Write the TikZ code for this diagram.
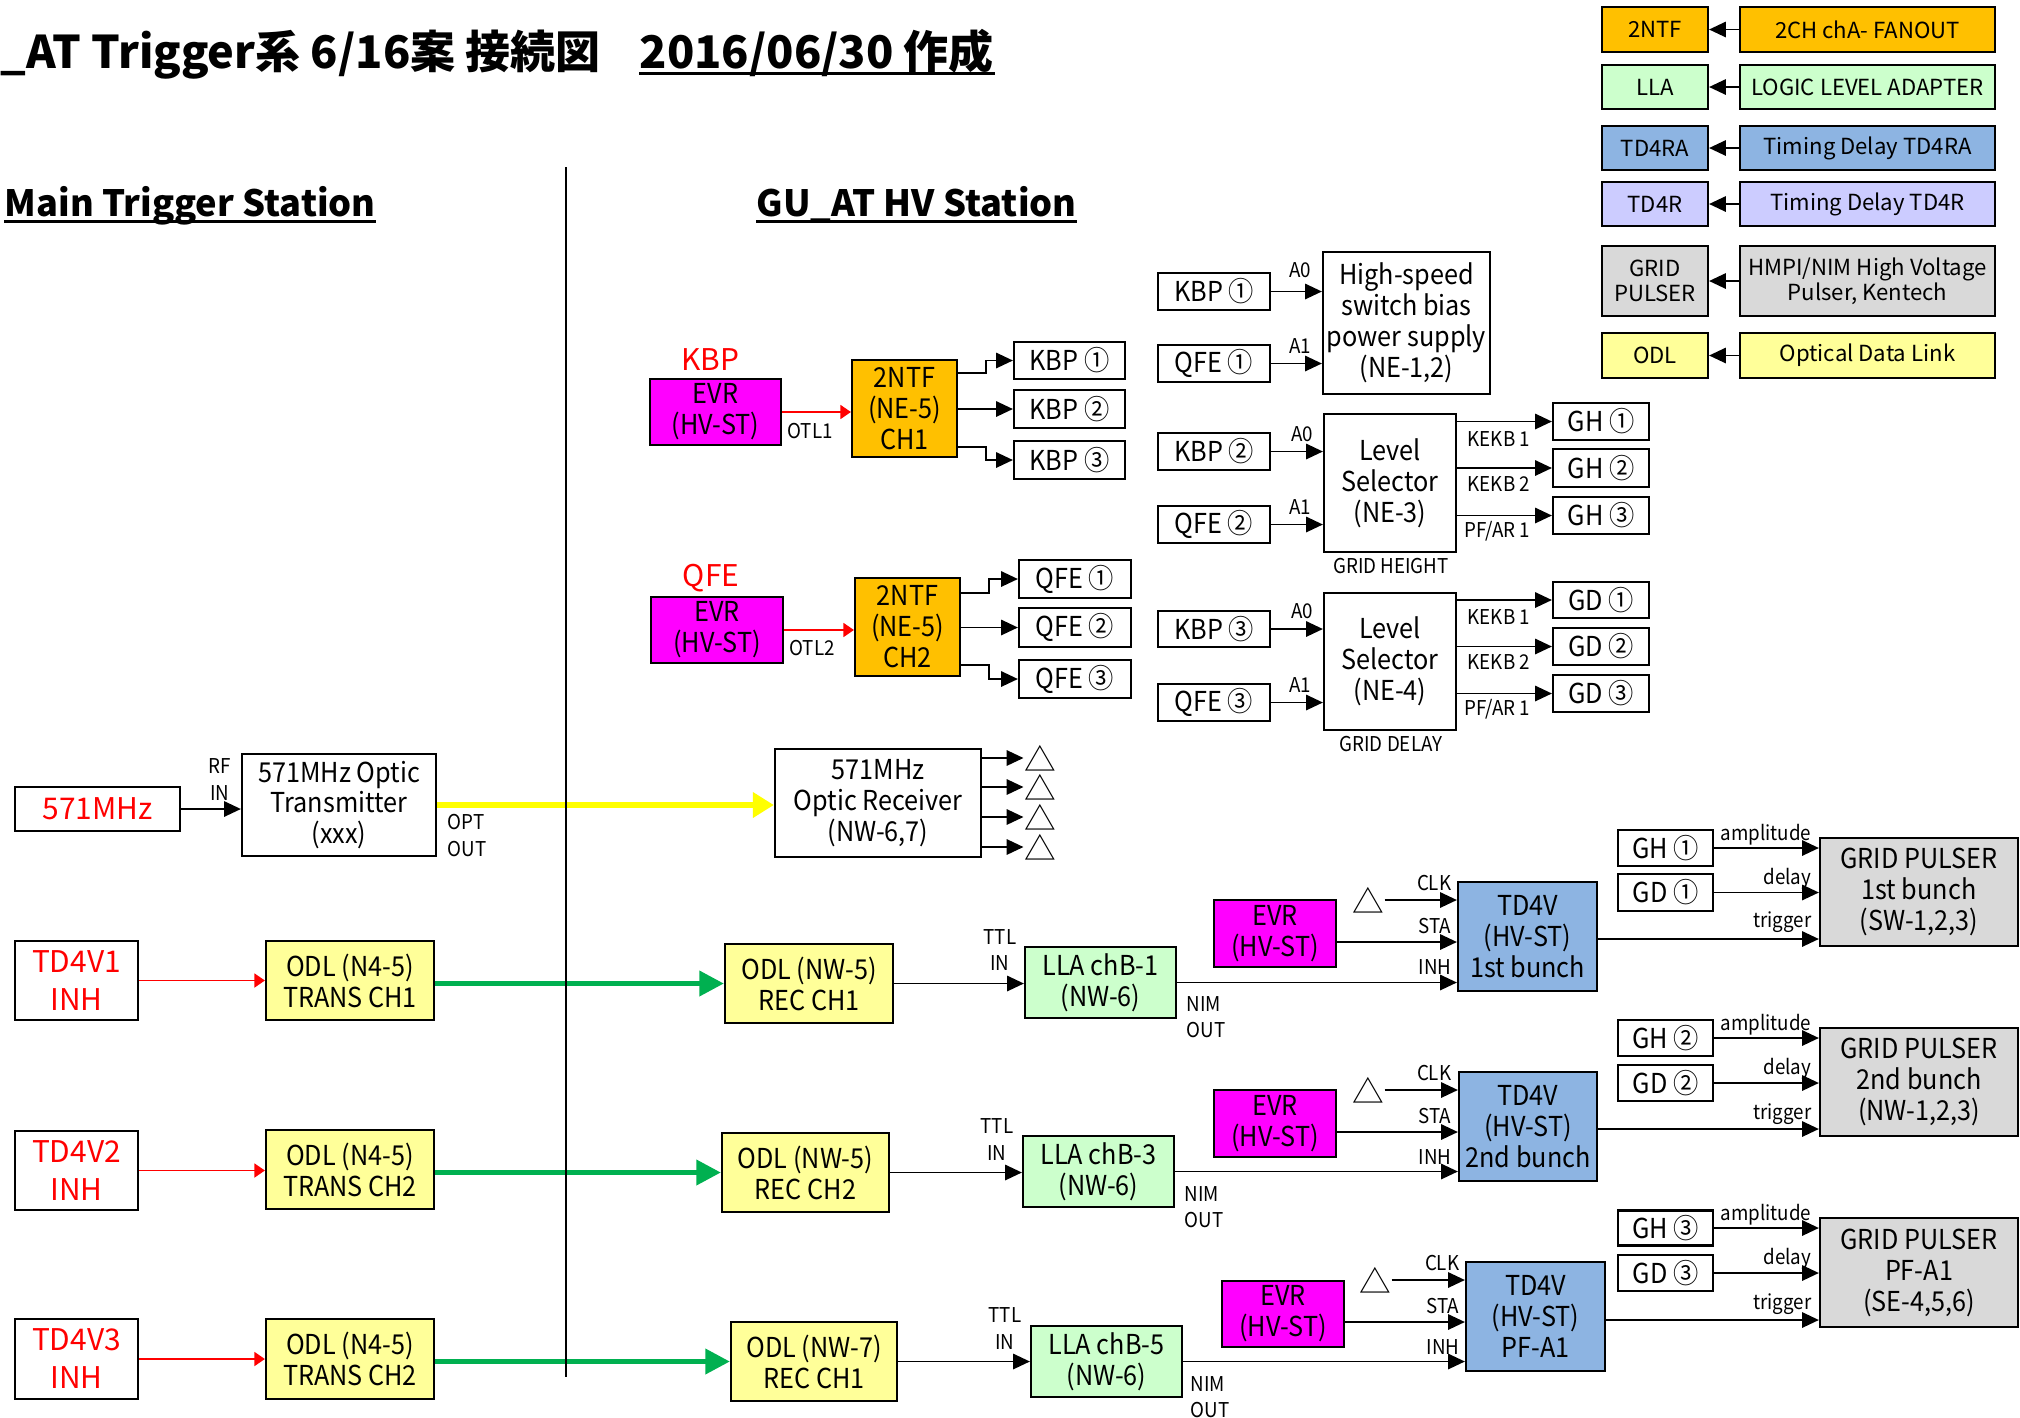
\documentclass[tikz,border=0pt]{standalone}
\usepackage{fontspec}
\setmainfont{Noto Sans CJK JP}
\newfontfamily\narrowfont{Noto Sans CJK JP}[FakeStretch=0.92]
\usetikzlibrary{arrows.meta}
\definecolor{ntforange}{HTML}{FFC000}
\definecolor{evrmag}{HTML}{FF00FF}
\definecolor{llagreen}{HTML}{CCFFCC}
\definecolor{tdblue}{HTML}{8DB4E2}
\definecolor{tdlav}{HTML}{CCCCFF}
\definecolor{gpgrey}{HTML}{D9D9D9}
\definecolor{odlyellow}{HTML}{FFFF99}
\definecolor{optyellow}{HTML}{FFFF00}
\definecolor{odlgreen}{HTML}{00B050}
\newcommand{\titlefont}{\fontsize{12.8}{15}\selectfont\bfseries}
\newcommand{\headfont}{\fontsize{10.3}{12}\selectfont\bfseries}
\newcommand{\boxfont}{\narrowfont\fontsize{7.8}{8.8}\selectfont}
\newcommand{\redfont}{\fontsize{8.5}{10.8}\selectfont}
\newcommand{\legfont}{\fontsize{6.3}{7.2}\selectfont}
\newcommand{\lblfont}{\narrowfont\fontsize{5.8}{7.4}\selectfont}
\begin{document}
\begin{tikzpicture}[x=0.01cm,y=-0.01cm]
	\tikzset{box/.style={draw,line width=0.6pt,align=center,inner sep=0pt,font=\boxfont},
		wh/.style 2 args={minimum width=#1cm,minimum height=#2cm},
		lbl/.style={font=\lblfont,inner sep=0pt},
		tri/.style={font=\fontsize{9}{9}\selectfont,inner sep=0pt},
		arr/.style={line width=0.5pt,-{Triangle[length=4.8pt,width=4.4pt]}},
		redarr/.style={red,line width=0.45pt,-{Triangle[length=3pt,width=4pt]}},
		grnarr/.style={odlgreen,line width=1.5pt,-{Triangle[length=7pt,width=7pt]}},
		yelarr/.style={optyellow,line width=1.5pt,-{Triangle[length=6pt,width=7pt]}}}
	\useasboundingbox (0,0) rectangle (2020,1417);
	
	% Title and station headings
	\node[anchor=base west,font=\titlefont,inner sep=0pt] (title) at (0,68) {\_AT Trigger系 6/16案 接続図};
	\node[anchor=base west,font=\titlefont,inner sep=0pt] (date) at (639,68) {2016/06/30 作成};
	\draw[line width=0.9pt] ([yshift=-1.5pt]date.base west) -- ([yshift=-1.5pt]date.base east);
	\node[anchor=base west,font=\headfont,inner sep=0pt] (mts) at (4,216) {Main Trigger Station};
	\draw[line width=0.8pt] ([yshift=-1.5pt]mts.base west) -- ([yshift=-1.5pt]mts.base east);
	\node[anchor=base west,font=\headfont,inner sep=0pt] (hvs) at (756,216) {GU\_AT HV Station};
	\draw[line width=0.8pt] ([yshift=-1.5pt]hvs.base west) -- ([yshift=-1.5pt]hvs.base east);
	
	% Legend
	\foreach \n/\yy/\hh/\col/\short/\long in {a/29.5/0.45/ntforange/2NTF/{2CH chA- FANOUT},
		b/87/0.44/llagreen/LLA/{LOGIC LEVEL ADAPTER},
		c/148/0.44/tdblue/TD4RA/{Timing Delay TD4RA},
		d/204/0.44/tdlav/TD4R/{Timing Delay TD4R},
		e/281/0.70/gpgrey/{GRID\\PULSER}/{HMPI/NIM High Voltage\\Pulser, Kentech},
		f/355.5/0.45/odlyellow/ODL/{Optical Data Link}}
	{
		\node[box,fill=\col,wh={1.06}{\hh},font=\legfont] (legS\n) at (1655,\yy) {\short};
		\node[box,fill=\col,wh={2.55}{\hh},font=\legfont] (legL\n) at (1867.5,\yy) {\long};
		\draw[arr] (legL\n) -- (legS\n);
	}
	
	% KBP branch
	\node[font=\redfont,text=red,inner sep=0pt] (kbplab) at (710,360) {KBP};
	\node[box,fill=evrmag,wh={1.31}{0.66}] (evrK) at (715.5,412) {EVR\\(HV-ST)};
	\node[box,fill=ntforange,wh={1.05}{0.97}] (ntfK) at (904.5,408.5) {2NTF\\(NE-5)\\CH1};
	\draw[redarr] (evrK.east) -- (evrK.east -| ntfK.west);
	\node[lbl] (otl1) at (810,431) {OTL1};
	\node[box,wh={1.11}{0.37}] (kbpo1) at (1069.5,360.5) {KBP ①};
	\node[box,wh={1.11}{0.38}] (kbpo2) at (1069.5,409) {KBP ②};
	\node[box,wh={1.11}{0.38}] (kbpo3) at (1069.5,460) {KBP ③};
	\draw[arr] (ntfK.east |- 0,373) -- ++(28,0) |- (kbpo1);
	\draw[arr] (ntfK.east |- kbpo2) -- (kbpo2);
	\draw[arr] (ntfK.east |- 0,447) -- ++(28,0) |- (kbpo3);
	
	% QFE branch
	\node[font=\redfont,text=red,inner sep=0pt] (qfelab) at (711,578) {QFE};
	\node[box,fill=evrmag,wh={1.32}{0.66}] (evrQ) at (717,630) {EVR\\(HV-ST)};
	\node[box,fill=ntforange,wh={1.05}{0.98}] (ntfQ) at (907.5,627) {2NTF\\(NE-5)\\CH2};
	\draw[redarr] (evrQ.east) -- (evrQ.east -| ntfQ.west);
	\node[lbl] (otl2) at (812,648) {OTL2};
	\node[box,wh={1.12}{0.38}] (qfeo1) at (1075,579) {QFE ①};
	\node[box,wh={1.12}{0.39}] (qfeo2) at (1075,627.5) {QFE ②};
	\node[box,wh={1.12}{0.38}] (qfeo3) at (1075,679) {QFE ③};
	\draw[arr] (ntfQ.east |- 0,593) -- ++(28,0) |- (qfeo1);
	\draw[arr] (ntfQ.east |- qfeo2) -- (qfeo2);
	\draw[arr] (ntfQ.east |- 0,665) -- ++(28,0) |- (qfeo3);
	
	% High-speed switch bias power supply
	\node[box,wh={1.12}{0.37}] (kbpi1) at (1214,291.5) {KBP ①};
	\node[box,wh={1.12}{0.37}] (qfei1) at (1214,363.5) {QFE ①};
	\node[box,wh={1.67}{1.42}] (hs) at (1406.5,323) {High-speed\\switch bias\\power supply\\(NE-1,2)};
	\draw[arr] (kbpi1) -- (kbpi1 -| hs.west);
	\draw[arr] (qfei1) -- (qfei1 -| hs.west);
	\node[lbl] (hsa0) at (1300,270) {A0};
	\node[lbl] (hsa1) at (1300,346) {A1};
	
	% Level selector: grid height
	\node[box,wh={1.12}{0.37}] (kbpi2) at (1214,451.5) {KBP ②};
	\node[box,wh={1.12}{0.37}] (qfei2) at (1214,524.5) {QFE ②};
	\node[box,wh={1.32}{1.38}] (lsh) at (1390,483) {Level\\Selector\\(NE-3)};
	\draw[arr] (kbpi2) -- (kbpi2 -| lsh.west);
	\draw[arr] (qfei2) -- (qfei2 -| lsh.west);
	\node[lbl] (lsha0) at (1302,434) {A0};
	\node[lbl] (lsha1) at (1300,507) {A1};
	\node[lbl] (lshlab) at (1391,566) {GRID HEIGHT};
	\node[box,wh={0.96}{0.37}] (gh1) at (1601,421.5) {GH ①};
	\node[box,wh={0.96}{0.38}] (gh2) at (1601,468) {GH ②};
	\node[box,wh={0.96}{0.37}] (gh3) at (1601,515.5) {GH ③};
	\foreach \i in {1,2,3}
	{
		\draw[arr] (lsh.east |- gh\i) -- (gh\i);
	}
	\node[lbl,anchor=west] (lshk1) at (1467,439) {KEKB 1};
	\node[lbl,anchor=west] (lshk2) at (1467,484) {KEKB 2};
	\node[lbl,anchor=west] (lshpf) at (1464,531) {PF/AR 1};
	
	% Level selector: grid delay
	\node[box,wh={1.12}{0.36}] (kbpi3) at (1214,629) {KBP ③};
	\node[box,wh={1.12}{0.37}] (qfei3) at (1214,702.5) {QFE ③};
	\node[box,wh={1.32}{1.37}] (lsd) at (1390,661.5) {Level\\Selector\\(NE-4)};
	\draw[arr] (kbpi3) -- (kbpi3 -| lsd.west);
	\draw[arr] (qfei3) -- (qfei3 -| lsd.west);
	\node[lbl] (lsda0) at (1302,611) {A0};
	\node[lbl] (lsda1) at (1300,685) {A1};
	\node[lbl] (lsdlab) at (1391,744) {GRID DELAY};
	\node[box,wh={0.96}{0.36}] (gd1) at (1601,600) {GD ①};
	\node[box,wh={0.96}{0.37}] (gd2) at (1601,646.5) {GD ②};
	\node[box,wh={0.96}{0.37}] (gd3) at (1601,693.5) {GD ③};
	\foreach \i in {1,2,3}
	{
		\draw[arr] (lsd.east |- gd\i) -- (gd\i);
	}
	\node[lbl,anchor=west] (lsdk1) at (1467,617) {KEKB 1};
	\node[lbl,anchor=west] (lsdk2) at (1467,662) {KEKB 2};
	\node[lbl,anchor=west] (lsdpf) at (1464,709) {PF/AR 1};
	
	% 571MHz optic link
	\node[box,wh={1.65}{0.44},font=\redfont,text=red] (rf) at (97.5,809) {571MHz};
	\node[box,wh={1.94}{1.02}] (tx) at (339,805) {571MHz Optic\\Transmitter\\(xxx)};
	\draw[arr] (rf) -- (rf -| tx.west);
	\node[lbl,align=center] (rfin) at (220,779.5) {RF\\IN};
	\node[lbl,align=left,anchor=west] (optout) at (447,835.5) {OPT\\OUT};
	\node[box,wh={2.06}{1.08}] (rx) at (878,803) {571MHz\\Optic Receiver\\(NW-6,7)};
	\draw[yelarr] (tx.east) -- (tx.east -| rx.west);
	\foreach \i/\yy in {1/758,2/787,3/817,4/847}
	{
		\node[tri] (rxo\i) at (1040,\yy) {△};
		\draw[arr] (rx.east |- rxo\i) -- (rxo\i.west);
	}
	
	% Row 1: 1st bunch
	\node[box,wh={1.23}{0.79},font=\redfont,text=red] (td1) at (76.5,980.5) {TD4V1\\INH};
	\node[box,fill=odlyellow,wh={1.68}{0.79}] (odt1) at (350,980.5) {ODL (N4-5)\\TRANS CH1};
	\node[box,fill=odlyellow,wh={1.68}{0.79}] (odr1) at (809,983.5) {ODL (NW-5)\\REC CH1};
	\node[box,fill=llagreen,wh={1.51}{0.71}] (lla1) at (1100.5,982.5) {LLA chB-1\\(NW-6)};
	\draw[redarr] (td1) -- (td1 -| odt1.west);
	\draw[grnarr] (odt1.east |- odr1) -- (odr1);
	\draw[arr] (odr1) -- (odr1 -| lla1.west);
	\node[lbl,align=center] (ttl1) at (1000,950) {TTL\\IN};
	\node[lbl,align=left,anchor=west] (nim1) at (1186,1017.5) {NIM\\OUT};
	\node[box,fill=evrmag,wh={1.22}{0.67}] (evr1) at (1275,933.5) {EVR\\(HV-ST)};
	\node[tri] (clk1) at (1368,900) {△};
	\node[box,fill=tdblue,wh={1.39}{1.09}] (tdv1) at (1527.5,936.5) {TD4V\\(HV-ST)\\1st bunch};
	\draw[arr] (clk1) -- (clk1 -| tdv1.west);
	\draw[arr] (evr1.east |- 0,942) -- (tdv1.west |- 0,942);
	\draw[arr] (lla1) -- (lla1 -| tdv1.west);
	\node[lbl,anchor=east] (clkl1) at (1452,883) {CLK};
	\node[lbl,anchor=east] (stal1) at (1452,926) {STA};
	\node[lbl,anchor=east] (inhl1) at (1452,967) {INH};
	\node[box,wh={0.95}{0.36}] (ghp1) at (1665.5,848) {GH ①};
	\node[box,wh={0.95}{0.37}] (gdp1) at (1665.5,892.5) {GD ①};
	\node[box,fill=gpgrey,wh={1.98}{1.08}] (gp1) at (1919,892) {GRID PULSER\\1st bunch\\(SW-1,2,3)};
	\draw[arr] (ghp1) -- (ghp1 -| gp1.west);
	\draw[arr] (gdp1) -- (gdp1 -| gp1.west);
	\draw[arr] (tdv1.east |- 0,939) -- (gp1.west |- 0,939);
	\node[lbl,anchor=east] (amp1) at (1812,835) {amplitude};
	\node[lbl,anchor=east] (dly1) at (1812,879) {delay};
	\node[lbl,anchor=east] (trg1) at (1812,922) {trigger};
	
	% Row 2: 2nd bunch
	\node[box,wh={1.23}{0.79},font=\redfont,text=red] (td2) at (76.5,1170.5) {TD4V2\\INH};
	\node[box,fill=odlyellow,wh={1.68}{0.79}] (odt2) at (350,1169.5) {ODL (N4-5)\\TRANS CH2};
	\node[box,fill=odlyellow,wh={1.67}{0.79}] (odr2) at (805.5,1172.5) {ODL (NW-5)\\REC CH2};
	\node[box,fill=llagreen,wh={1.51}{0.71}] (lla2) at (1098.5,1171.5) {LLA chB-3\\(NW-6)};
	\draw[redarr] (td2) -- (td2 -| odt2.west);
	\draw[grnarr] (odt2.east |- odr2) -- (odr2);
	\draw[arr] (odr2) -- (odr2 -| lla2.west);
	\node[lbl,align=center] (ttl2) at (997,1139.5) {TTL\\IN};
	\node[lbl,align=left,anchor=west] (nim2) at (1184,1207.5) {NIM\\OUT};
	\node[box,fill=evrmag,wh={1.22}{0.67}] (evr2) at (1275,1123.5) {EVR\\(HV-ST)};
	\node[tri] (clk2) at (1368,1090) {△};
	\node[box,fill=tdblue,wh={1.38}{1.09}] (tdv2) at (1528,1126.5) {TD4V\\(HV-ST)\\2nd bunch};
	\draw[arr] (clk2) -- (clk2 -| tdv2.west);
	\draw[arr] (evr2.east |- 0,1132) -- (tdv2.west |- 0,1132);
	\draw[arr] (lla2) -- (lla2 -| tdv2.west);
	\node[lbl,anchor=east] (clkl2) at (1452,1073) {CLK};
	\node[lbl,anchor=east] (stal2) at (1452,1116) {STA};
	\node[lbl,anchor=east] (inhl2) at (1452,1157) {INH};
	\node[box,wh={0.95}{0.36}] (ghp2) at (1665.5,1038) {GH ②};
	\node[box,wh={0.95}{0.36}] (gdp2) at (1665.5,1083) {GD ②};
	\node[box,fill=gpgrey,wh={1.98}{1.08}] (gp2) at (1919,1082) {GRID PULSER\\2nd bunch\\(NW-1,2,3)};
	\draw[arr] (ghp2) -- (ghp2 -| gp2.west);
	\draw[arr] (gdp2) -- (gdp2 -| gp2.west);
	\draw[arr] (tdv2.east |- 0,1129) -- (gp2.west |- 0,1129);
	\node[lbl,anchor=east] (amp2) at (1812,1025) {amplitude};
	\node[lbl,anchor=east] (dly2) at (1812,1069) {delay};
	\node[lbl,anchor=east] (trg2) at (1812,1114) {trigger};
	
	% Row 3: PF-A1
	\node[box,wh={1.23}{0.80},font=\redfont,text=red] (td3) at (76.5,1359) {TD4V3\\INH};
	\node[box,fill=odlyellow,wh={1.68}{0.80}] (odt3) at (350,1359) {ODL (N4-5)\\TRANS CH2};
	\node[box,fill=odlyellow,wh={1.66}{0.79}] (odr3) at (814,1361.5) {ODL (NW-7)\\REC CH1};
	\node[box,fill=llagreen,wh={1.51}{0.71}] (lla3) at (1106.5,1361.5) {LLA chB-5\\(NW-6)};
	\draw[redarr] (td3) -- (td3 -| odt3.west);
	\draw[grnarr] (odt3.east |- odr3) -- (odr3);
	\draw[arr] (odr3) -- (odr3 -| lla3.west);
	\node[lbl,align=center] (ttl3) at (1005,1328.5) {TTL\\IN};
	\node[lbl,align=left,anchor=west] (nim3) at (1190,1397.5) {NIM\\OUT};
	\node[box,fill=evrmag,wh={1.22}{0.66}] (evr3) at (1283,1314) {EVR\\(HV-ST)};
	\node[tri] (clk3) at (1375,1280) {△};
	\node[box,fill=tdblue,wh={1.39}{1.09}] (tdv3) at (1535.5,1316.5) {TD4V\\(HV-ST)\\PF-A1};
	\draw[arr] (clk3) -- (clk3 -| tdv3.west);
	\draw[arr] (evr3.east |- 0,1322) -- (tdv3.west |- 0,1322);
	\draw[arr] (lla3) -- (lla3 -| tdv3.west);
	\node[lbl,anchor=east] (clkl3) at (1460,1263) {CLK};
	\node[lbl,anchor=east] (stal3) at (1460,1306) {STA};
	\node[lbl,anchor=east] (inhl3) at (1460,1347) {INH};
	\node[box,wh={0.95}{0.35}] (ghp3) at (1665.5,1228) {GH ③};
	\node[box,wh={0.95}{0.36}] (gdp3) at (1665.5,1273) {GD ③};
	\node[box,fill=gpgrey,wh={1.98}{1.09}] (gp3) at (1919,1272.5) {GRID PULSER\\PF-A1\\(SE-4,5,6)};
	\draw[arr] (ghp3) -- (ghp3 -| gp3.west);
	\draw[arr] (gdp3) -- (gdp3 -| gp3.west);
	\draw[arr] (tdv3.east |- 0,1320) -- (gp3.west |- 0,1320);
	\node[lbl,anchor=east] (amp3) at (1812,1215) {amplitude};
	\node[lbl,anchor=east] (dly3) at (1812,1259) {delay};
	\node[lbl,anchor=east] (trg3) at (1812,1304) {trigger};
	
	% Station divider
	\draw[line width=0.5pt] (566,167) -- (566,1377);
	
\end{tikzpicture}
\end{document}
